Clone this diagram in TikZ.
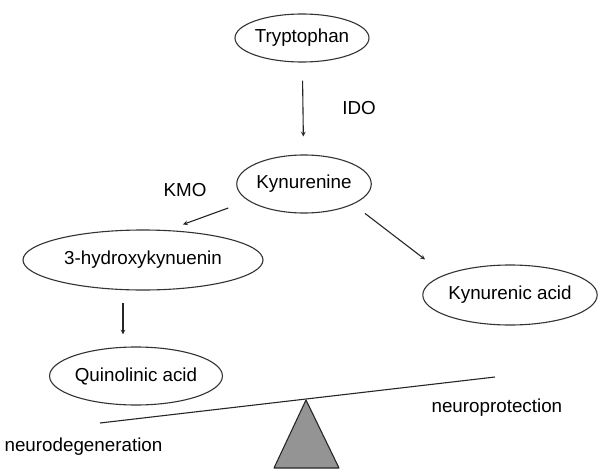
\documentclass[tikz,border=0pt]{standalone}
\usepackage{fontspec}
\setmainfont{Liberation Sans}
\usetikzlibrary{shapes.geometric}
\tikzset{
  metab/.style={ellipse,draw=black!80,line width=1.1pt,fill=white,inner sep=0pt},
  lbl/.style={inner sep=0pt},
}
\begin{document}
\begin{tikzpicture}[x=1pt,y=1pt,line width=1.1pt,font=\fontsize{18.8}{22}\selectfont]
  \useasboundingbox (0,0) rectangle (600,-474);
  \node[metab,minimum width=134,minimum height=48] (tryp) at (302,-38) {Tryptophan};
  \node[metab,minimum width=134,minimum height=58] (kyn) at (304,-184) {Kynurenine};
  \node[metab,minimum width=240,minimum height=60] (hk) at (143,-260) {3-hydroxykynuenin};
  \node[metab,minimum width=166,minimum height=58] (quin) at (136,-376) {Quinolinic acid};
  \node[metab,minimum width=170,minimum height=60] (kyna) at (510,-295) {Kynurenic acid};
  \node[lbl] (ido) at (359,-108) {IDO};
  \node[lbl] (kmo) at (185,-190) {KMO};
  \path[-stealth,black!85] (tryp) edge [shorten <=18pt,shorten >=18pt] (kyn)
    ([shift={(-8,-24)}]kyn.west) edge ([shift={(40,5)}]hk.north)
    ([shift={(13,-8.5)}]kyn.south east) edge ([shift={(-23,14)}]kyna.north west)
    ([shift={(-20,-12)}]hk.south) edge ([shift={(-13,12)}]quin.north);
  % balance
  \coordinate (lever-l) at (100,-423);
  \coordinate (lever-r) at (495,-377);
  \draw[black!85] (lever-l) -- (lever-r);
  \draw[black!85,fill=black!42,line join=round] (306,-400) -- (339,-468) -- (274,-468) -- cycle;
  \node[lbl,anchor=west] (degen) at (4,-447) {neurodegeneration};
  \node[lbl,anchor=west] (prot) at (431,-408) {neuroprotection};
\end{tikzpicture}
\end{document}
